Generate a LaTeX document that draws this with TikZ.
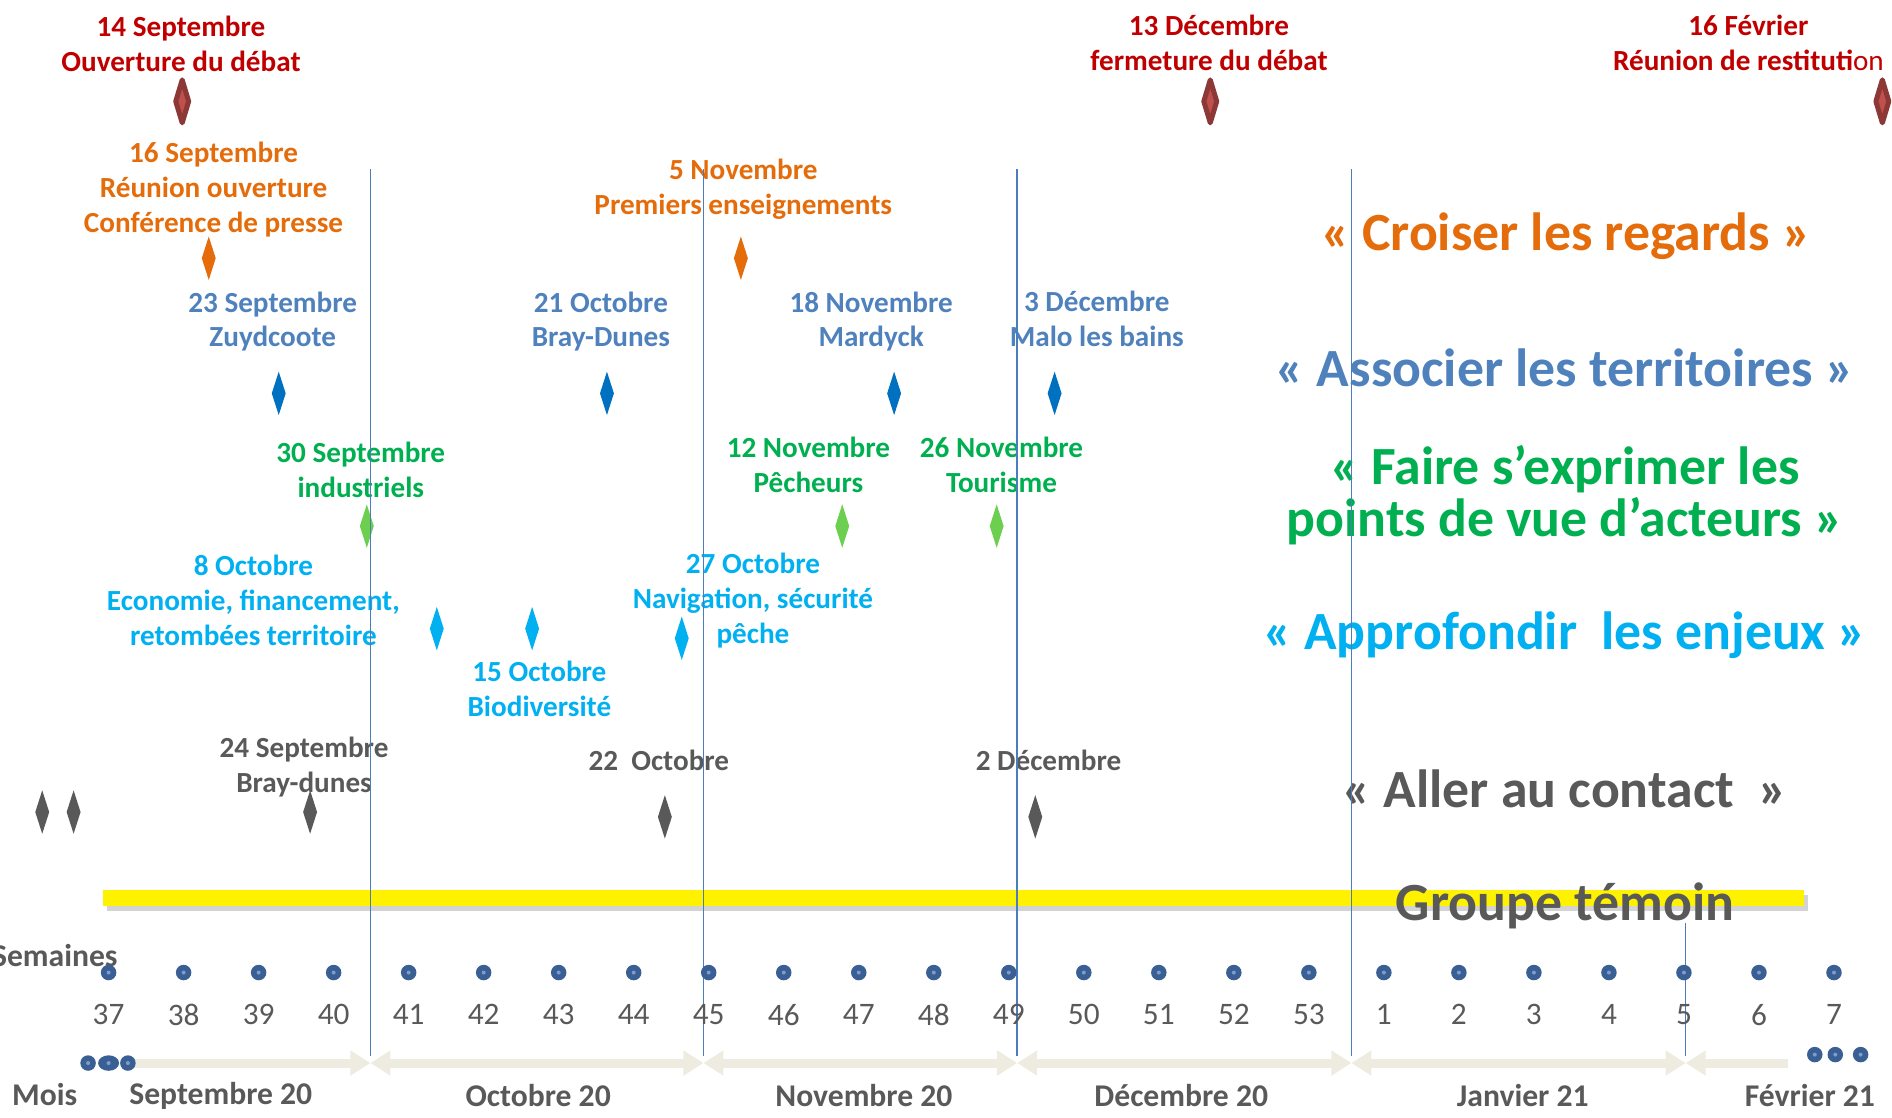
\documentclass[tikz,border=0pt]{standalone}
\usepackage{fontspec}
\setmainfont{Carlito}
\usetikzlibrary{arrows.meta}
\usetikzlibrary{shapes.geometric}
\usetikzlibrary{shadows}

\definecolor{debatred}{HTML}{C00000}
\definecolor{jalonfill}{HTML}{C0504D}
\definecolor{jalonedge}{HTML}{8C3836}
\definecolor{ouvorange}{HTML}{E46C0A}
\definecolor{terrblue}{HTML}{4F81BD}
\definecolor{diamblue}{HTML}{0070C0}
\definecolor{actgreen}{HTML}{00B050}
\definecolor{lightgreen}{HTML}{6CCF50}
\definecolor{enjcyan}{HTML}{00B0F0}
\definecolor{gristxt}{HTML}{595959}
\definecolor{seplinecol}{HTML}{4A7EBB}
\definecolor{dotblue}{HTML}{3A5F94}
\definecolor{dotlight}{HTML}{7E9CC9}
\definecolor{moisbeige}{HTML}{EEECE1}

\begin{document}
\begin{tikzpicture}[x=0.12066mm, y=-0.12066mm,
    evt/.style={font=\fontsize{8.3}{9.95}\selectfont\bfseries, align=center, inner sep=0pt, text=#1},
    losange/.style={diamond, fill=#1, inner sep=0pt, minimum width=1.45mm, minimum height=4.4mm},
    jalon/.style={diamond, fill=jalonfill, draw=jalonedge, line width=0.5mm, line join=round, inner sep=0pt, minimum width=1.5mm, minimum height=4.5mm},
    theme/.style={font=\fontsize{15.3}{14.7}\selectfont\bfseries, align=center, inner sep=0pt, text=#1},
    separateur/.style={draw=seplinecol, line width=0.45pt},
    point/.style={circle, fill=dotblue, inner sep=0pt, minimum size=1.55mm, path picture={\fill[dotlight] (path picture bounding box.center) circle (0.2mm);}},
    semaine/.style={font=\fontsize{8.9}{10}\selectfont, text=gristxt, inner sep=0pt},
    mois/.style={font=\fontsize{9}{10}\selectfont\bfseries, text=gristxt, inner sep=0pt},
    fleche/.style={draw=moisbeige, line width=0.9mm, >={Triangle[width=2.4mm,length=2mm]}}]
  \useasboundingbox (0,0) rectangle (1568,926);

  % groupe temoin
  \fill[yellow, drop shadow={shadow xshift=0.4mm, shadow yshift=-0.5mm, opacity=0.35}] (85,737.5) rectangle (1495,750.5);

  % grandes dates du debat
  \node[evt=debatred] (t14sep) at (150,36) {14 Septembre\\Ouverture du débat};
  \node[jalon] (d14sep) at (151,84) {};
  \node[evt=debatred] (t13dec) at (1002,35.5) {13 Décembre\\fermeture du débat};
  \node[jalon] (d13dec) at (1003,84) {};
  \node[evt=debatred] (t16fev) at (1449,35.5) {16 Février\\Réunion de restituti\textmd{on}};
  \node[jalon] (d16fev) at (1560,84) {};

  % croiser les regards
  \node[evt=ouvorange] (t16sep) at (177,157) {16 Septembre\\Réunion ouverture\\Conférence de presse};
  \node[losange=ouvorange] (d16sep) at (173,214) {};
  \node[evt=ouvorange] (t5nov) at (616,156.5) {5 Novembre\\Premiers enseignements};
  \node[losange=ouvorange] (d5nov) at (614,214) {};

  % associer les territoires
  \node[evt=terrblue] (t23sep) at (226,266.5) {23 Septembre\\Zuydcoote};
  \node[losange=diamblue] (d23sep) at (231,326) {};
  \node[evt=terrblue] (t21oct) at (498,266.5) {21 Octobre\\Bray-Dunes};
  \node[losange=diamblue] (d21oct) at (503,326) {};
  \node[evt=terrblue] (t18nov) at (722,266.5) {18 Novembre\\Mardyck};
  \node[losange=diamblue] (d18nov) at (741,326) {};
  \node[evt=terrblue] (t3dec) at (909,264.5) {3 Décembre\\Malo les bains};
  \node[losange=diamblue] (d3dec) at (874,326) {};

  % points de vue d'acteurs
  \node[evt=actgreen] (t30sep) at (299,389.5) {30 Septembre\\industriels};
  \node[losange=lightgreen] (d30sep) at (304,436) {};
  \node[evt=actgreen] (t12nov) at (670,385.5) {12 Novembre\\Pêcheurs};
  \node[losange=lightgreen] (d12nov) at (698,436) {};
  \node[evt=actgreen] (t26nov) at (830,385.5) {26 Novembre\\Tourisme};
  \node[losange=lightgreen] (d26nov) at (826,436) {};

  % approfondir les enjeux
  \node[evt=enjcyan] (t8oct) at (210,497.5) {8 Octobre\\Economie, financement,\\retombées territoire};
  \node[losange=enjcyan] (d8oct) at (362,521) {};
  \node[evt=enjcyan] (t15oct) at (447,571) {15 Octobre\\Biodiversité};
  \node[losange=enjcyan] (d15oct) at (441,521) {};
  \node[evt=enjcyan] (t27oct) at (624,497.5) {27 Octobre\\Navigation, sécurité\\pêche};
  \node[losange=enjcyan] (d27oct) at (565,529) {};

  % aller au contact
  \node[losange=gristxt] (dcontA) at (35,673) {};
  \node[losange=gristxt] (dcontB) at (61,673) {};
  \node[evt=gristxt] (t24sep) at (252,635.5) {24 Septembre\\Bray-dunes};
  \node[losange=gristxt] (d24sep) at (257,673) {};
  \node[evt=gristxt] (t22oct) at (546,630) {22\ \ Octobre};
  \node[losange=gristxt] (d22oct) at (551,677) {};
  \node[evt=gristxt] (t2dec) at (869,630) {2 Décembre};
  \node[losange=gristxt] (d2dec) at (858,677) {};

  % themes
  \node[theme=ouvorange] (croiser) at (1298,196) {« Croiser les regards »};
  \node[theme=terrblue] (associer) at (1297,305) {« Associer les territoires »};
  \node[theme=actgreen] (exprimer) at (1297,410.5) {« Faire s’exprimer les\\points de vue d’acteurs »};
  \node[theme=enjcyan] (approfondir) at (1297,526) {« Approfondir\ \ les enjeux »};
  \node[theme=gristxt] (contact) at (1297,654) {« Aller au contact\ \ »};
  \node[theme=gristxt] (temoin) at (1297,751) {Groupe témoin};

  % separations des mois
  \coordinate (sepAh) at (307,140);  \coordinate (sepAb) at (307,875);
  \coordinate (sepBh) at (583,140);  \coordinate (sepBb) at (583,875);
  \coordinate (sepCh) at (843,140);  \coordinate (sepCb) at (843,875);
  \coordinate (sepDh) at (1120,140); \coordinate (sepDb) at (1120,875);
  \coordinate (sepEh) at (1397,765); \coordinate (sepEb) at (1397,875);
  \draw[separateur] (sepAh) -- (sepAb);
  \draw[separateur] (sepBh) -- (sepBb);
  \draw[separateur] (sepCh) -- (sepCb);
  \draw[separateur] (sepDh) -- (sepDb);
  \draw[separateur] (sepEh) -- (sepEb);

  % semaines
  \node[mois, anchor=east] (semaines) at (98,792) {Semaines};
  \foreach \w [count=\i from 0] in {37,38,39,40,41,42,43,44,45,46,47,48,49,50,51,52,53,1,2,3,4,5,6,7} {
    \node[point] (w\i) at ({90+62.17*\i},806) {};
    \node[semaine] (n\i) at ({90+62.17*\i},841) {\w};
  }

  % mois
  \coordinate (m0) at (106,881);
  \coordinate (m1) at (307,881);
  \coordinate (m2) at (583,881);
  \coordinate (m3) at (843,881);
  \coordinate (m4) at (1120,881);
  \coordinate (m5) at (1397,881);
  \coordinate (m6) at (1482,881);
  \draw[fleche, ->] (m0) -- (m1);
  \draw[fleche, <->] (m1) -- (m2);
  \draw[fleche, <->] (m2) -- (m3);
  \draw[fleche, <->] (m3) -- (m4);
  \draw[fleche, <->] (m4) -- (m5);
  \draw[fleche, <-] (m5) -- (m6);
  \node[point] (sepA) at (73,881) {};
  \node[point, ellipse, minimum width=2.1mm, minimum height=1.55mm] (sepB) at (90,881) {};
  \node[point] (sepC) at (106,881) {};
  \node[point] (fevA) at (1504,874) {};
  \node[point] (fevB) at (1521,874) {};
  \node[point] (fevC) at (1542,874) {};

  \node[mois] (moislbl) at (37,907) {Mois};
  \node[mois] (sept) at (183,908) {Septembre 20};
  \node[mois] (oct) at (446,908) {Octobre 20};
  \node[mois] (nov) at (716,908) {Novembre 20};
  \node[mois] (dec) at (979,908) {Décembre 20};
  \node[mois] (jan) at (1262,908) {Janvier 21};
  \node[mois] (fev) at (1500,908) {Février 21};
\end{tikzpicture}
\end{document}
